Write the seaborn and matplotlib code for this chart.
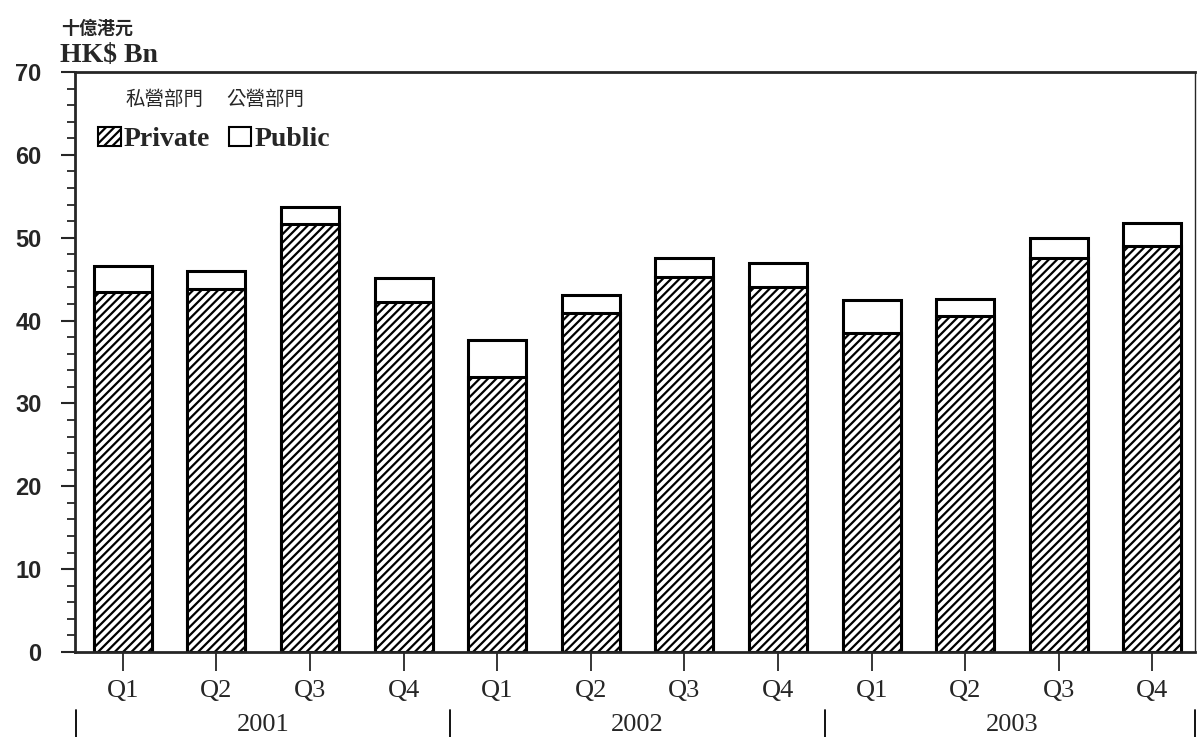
import pandas as pd
import seaborn as sns
import matplotlib.pyplot as plt
from matplotlib.patches import Patch
from matplotlib.ticker import MultipleLocator

quarters = ['Q1', 'Q2', 'Q3', 'Q4'] * 3
years = ['2001', '2002', '2003']
private = [43.4, 43.8, 51.7, 42.3, 33.2, 40.9, 45.2, 44.1, 38.5, 40.5, 47.6, 49.0]
public = [3.2, 2.2, 2.0, 2.8, 4.4, 2.2, 2.4, 2.9, 4.0, 2.1, 2.4, 2.8]

sns.set_style('ticks')
plt.rcParams['font.family'] = ['Liberation Serif', 'Noto Sans CJK TC']
plt.rcParams['hatch.linewidth'] = 1.6

df = pd.DataFrame({
    'idx': list(range(12)),
    'private': private,
    'total': [a + b for a, b in zip(private, public)],
})

fig = plt.figure(figsize=(12, 7.37), dpi=100)
ax = fig.add_axes([0.0625, 0.1153, 0.933, 0.787])

# public on top: draw total first, then private over it
sns.barplot(data=df, x='idx', y='total', color='white', edgecolor='black',
            linewidth=2.2, width=0.62, ax=ax, saturation=1)
sns.barplot(data=df, x='idx', y='private', color='white', edgecolor='black',
            linewidth=2.2, width=0.62, hatch='////', ax=ax, saturation=1)

ax.set_ylim(0, 70)
ax.set_xlim(-0.51, 11.45)
ax.yaxis.set_major_locator(MultipleLocator(10))
ax.yaxis.set_minor_locator(MultipleLocator(2))
ax.tick_params(axis='y', which='major', direction='out', length=10, width=1.5,
               labelsize=17, pad=14)
ax.tick_params(axis='y', which='minor', direction='out', length=6, width=1.3)
ax.tick_params(axis='x', direction='out', length=14, width=1.3, labelsize=19, pad=6)
for t in ax.get_yticklabels():
    t.set_family('Liberation Sans')
    t.set_fontweight('bold')
ax.set_xticks(range(12))
ax.set_xticklabels(quarters)
ax.set_xlabel('')
ax.set_ylabel('')
for s in ['left', 'bottom', 'top']:
    ax.spines[s].set_linewidth(2)
ax.spines['right'].set_linewidth(1)

# year row with separators
tr = ax.get_xaxis_transform()
for i, y in enumerate(years):
    ax.text(1.5 + 4 * i, -0.125, y, transform=tr, ha='center', va='center', fontsize=19)
for x in [-0.5, 3.5, 7.5, 11.45]:
    ax.plot([x, x], [-0.1, -0.15], transform=tr, color='black', lw=1.3, clip_on=False)

# unit label
fig.text(0.051, 0.962, '十億港元', fontsize=13, fontweight='bold',
         family=['Noto Sans CJK TC'], va='center')
fig.text(0.05, 0.925, 'HK$ Bn', fontsize=20, fontweight='bold', va='center')

# legend
handles = [Patch(facecolor='white', edgecolor='black', hatch='////', lw=1.5),
           Patch(facecolor='white', edgecolor='black', lw=1.5)]
ax.legend(handles, ['Private', 'Public'], loc='upper left', bbox_to_anchor=(0.011, 0.925),
          ncol=2, frameon=False, prop={'size': 20, 'weight': 'bold'},
          handlelength=0.8, handleheight=0.7, handletextpad=0.1,
          columnspacing=0.7, borderaxespad=0)
ax.text(0.045, 0.952, '私營部門', transform=ax.transAxes, fontsize=14,
        family=['Noto Sans CJK TC'], va='center')
ax.text(0.135, 0.952, '公營部門', transform=ax.transAxes, fontsize=14,
        family=['Noto Sans CJK TC'], va='center')

fig.savefig('out.png', dpi=100)
